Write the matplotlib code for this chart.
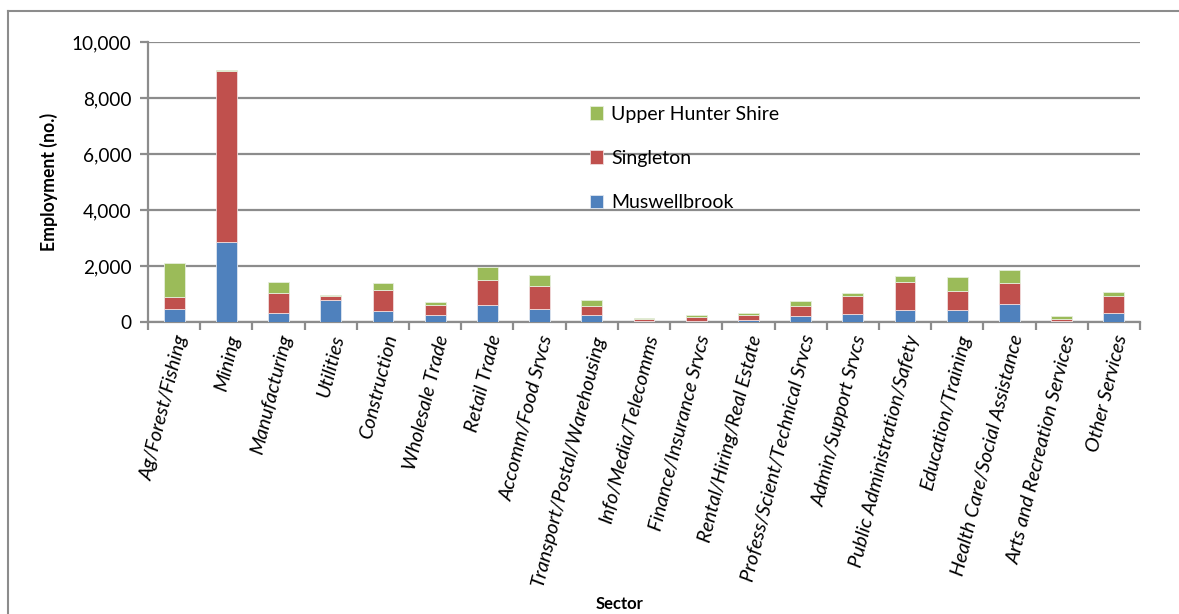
import matplotlib
matplotlib.use("Agg")
import matplotlib.pyplot as plt
import numpy as np
from matplotlib.ticker import FuncFormatter
from matplotlib.lines import Line2D

sectors = ["Ag/Forest/Fishing", "Mining", "Manufacturing", "Utilities", "Construction",
           "Wholesale Trade", "Retail Trade", "Accomm/Food Srvcs", "Transport/Postal/Warehousing",
           "Info/Media/Telecomms", "Finance/Insurance Srvcs", "Rental/Hiring/Real Estate",
           "Profess/Scient/Technical Srvcs", "Admin/Support Srvcs", "Public Administration/Safety",
           "Education/Training", "Health Care/Social Assistance", "Arts and Recreation Services",
           "Other Services"]
muswellbrook = [460, 2870, 310, 800, 390, 250, 620, 465, 250, 48, 50, 85, 225, 285, 430, 415, 630, 50, 320]
singleton = [420, 6080, 740, 130, 740, 355, 880, 810, 335, 60, 120, 155, 335, 630, 990, 680, 750, 70, 595]
upper_hunter = [1225, 60, 380, 25, 275, 95, 465, 390, 190, 25, 70, 70, 200, 130, 240, 510, 490, 95, 165]
yticks = [0, 2000, 4000, 6000, 8000, 10000]

plt.rcParams['font.family'] = ['Lato', 'DejaVu Sans']

W, H = 1179, 614
fig = plt.figure(figsize=(W / 100, H / 100), dpi=100)
ax = fig.add_axes([148 / W, 1 - 322 / H, (1140 - 148) / W, (322 - 42) / H])

x = np.arange(len(sectors))
m = np.array(muswellbrook)
s = np.array(singleton)
u = np.array(upper_hunter)
bw = 0.4
c_blue, c_red, c_green = "#4F81BD", "#C0504D", "#9BBB59"
b1 = ax.bar(x, m, bw, color=c_blue, edgecolor="#dfe6f0", linewidth=0.6, label="Muswellbrook", zorder=3)
b2 = ax.bar(x, s, bw, bottom=m, color=c_red, edgecolor="#f0dcdc", linewidth=0.6, label="Singleton", zorder=3)
b3 = ax.bar(x, u, bw, bottom=m + s, color=c_green, edgecolor="#e6eedc", linewidth=0.6, label="Upper Hunter Shire", zorder=3)

ax.set_xlim(-0.5, len(sectors) - 0.5)
ax.set_ylim(0, 10000)
ax.set_yticks(yticks)
ax.yaxis.set_major_formatter(FuncFormatter(lambda v, p: f"{int(v):,}"))
ax.grid(axis="y", color="#8c8c8c", linewidth=1.6, zorder=0)
ax.set_axisbelow(True)

for sp in ["top", "right"]:
    ax.spines[sp].set_visible(False)
for sp in ["left", "bottom"]:
    ax.spines[sp].set_color("#8c8c8c")
    ax.spines[sp].set_linewidth(1.6)

ax.set_xticks(x)
ax.set_xticklabels(sectors, rotation=76, ha="right", va="top", rotation_mode="anchor",
                   fontstyle="italic", fontsize=14.3)
ax.tick_params(axis="x", length=0, pad=8)
ax.set_xticks(np.arange(len(sectors) + 1) - 0.5, minor=True)
ax.tick_params(axis="x", which="minor", length=6, width=1.6, color="#8c8c8c", direction="out")
ax.tick_params(axis="y", length=6, width=1.6, color="#8c8c8c", labelsize=13.7, pad=6)

ax.set_ylabel("Employment (no.)", fontsize=12.7, fontweight="bold", labelpad=10)
fig.text(620 / W, 1 - 604 / H, "Sector", fontsize=12, fontweight="bold", ha="center", va="center")

handles = [b3, b2, b1]
ax.legend(handles, [h.get_label() for h in handles], loc="upper left",
          bbox_to_anchor=((580 - 148) / (1140 - 148), (322 - 96) / 280), frameon=False,
          fontsize=14, handlelength=0.7, handleheight=0.7, handletextpad=0.4,
          labelspacing=1.4, borderpad=0)

# outer chart border
fig.add_artist(Line2D([8 / W, 8 / W], [0, 1 - 11 / H], color="#8c8c8c", linewidth=1.5, transform=fig.transFigure))
fig.add_artist(Line2D([8 / W, 1], [1 - 11 / H, 1 - 11 / H], color="#8c8c8c", linewidth=1.5, transform=fig.transFigure))

fig.savefig("out.png", dpi=100)
